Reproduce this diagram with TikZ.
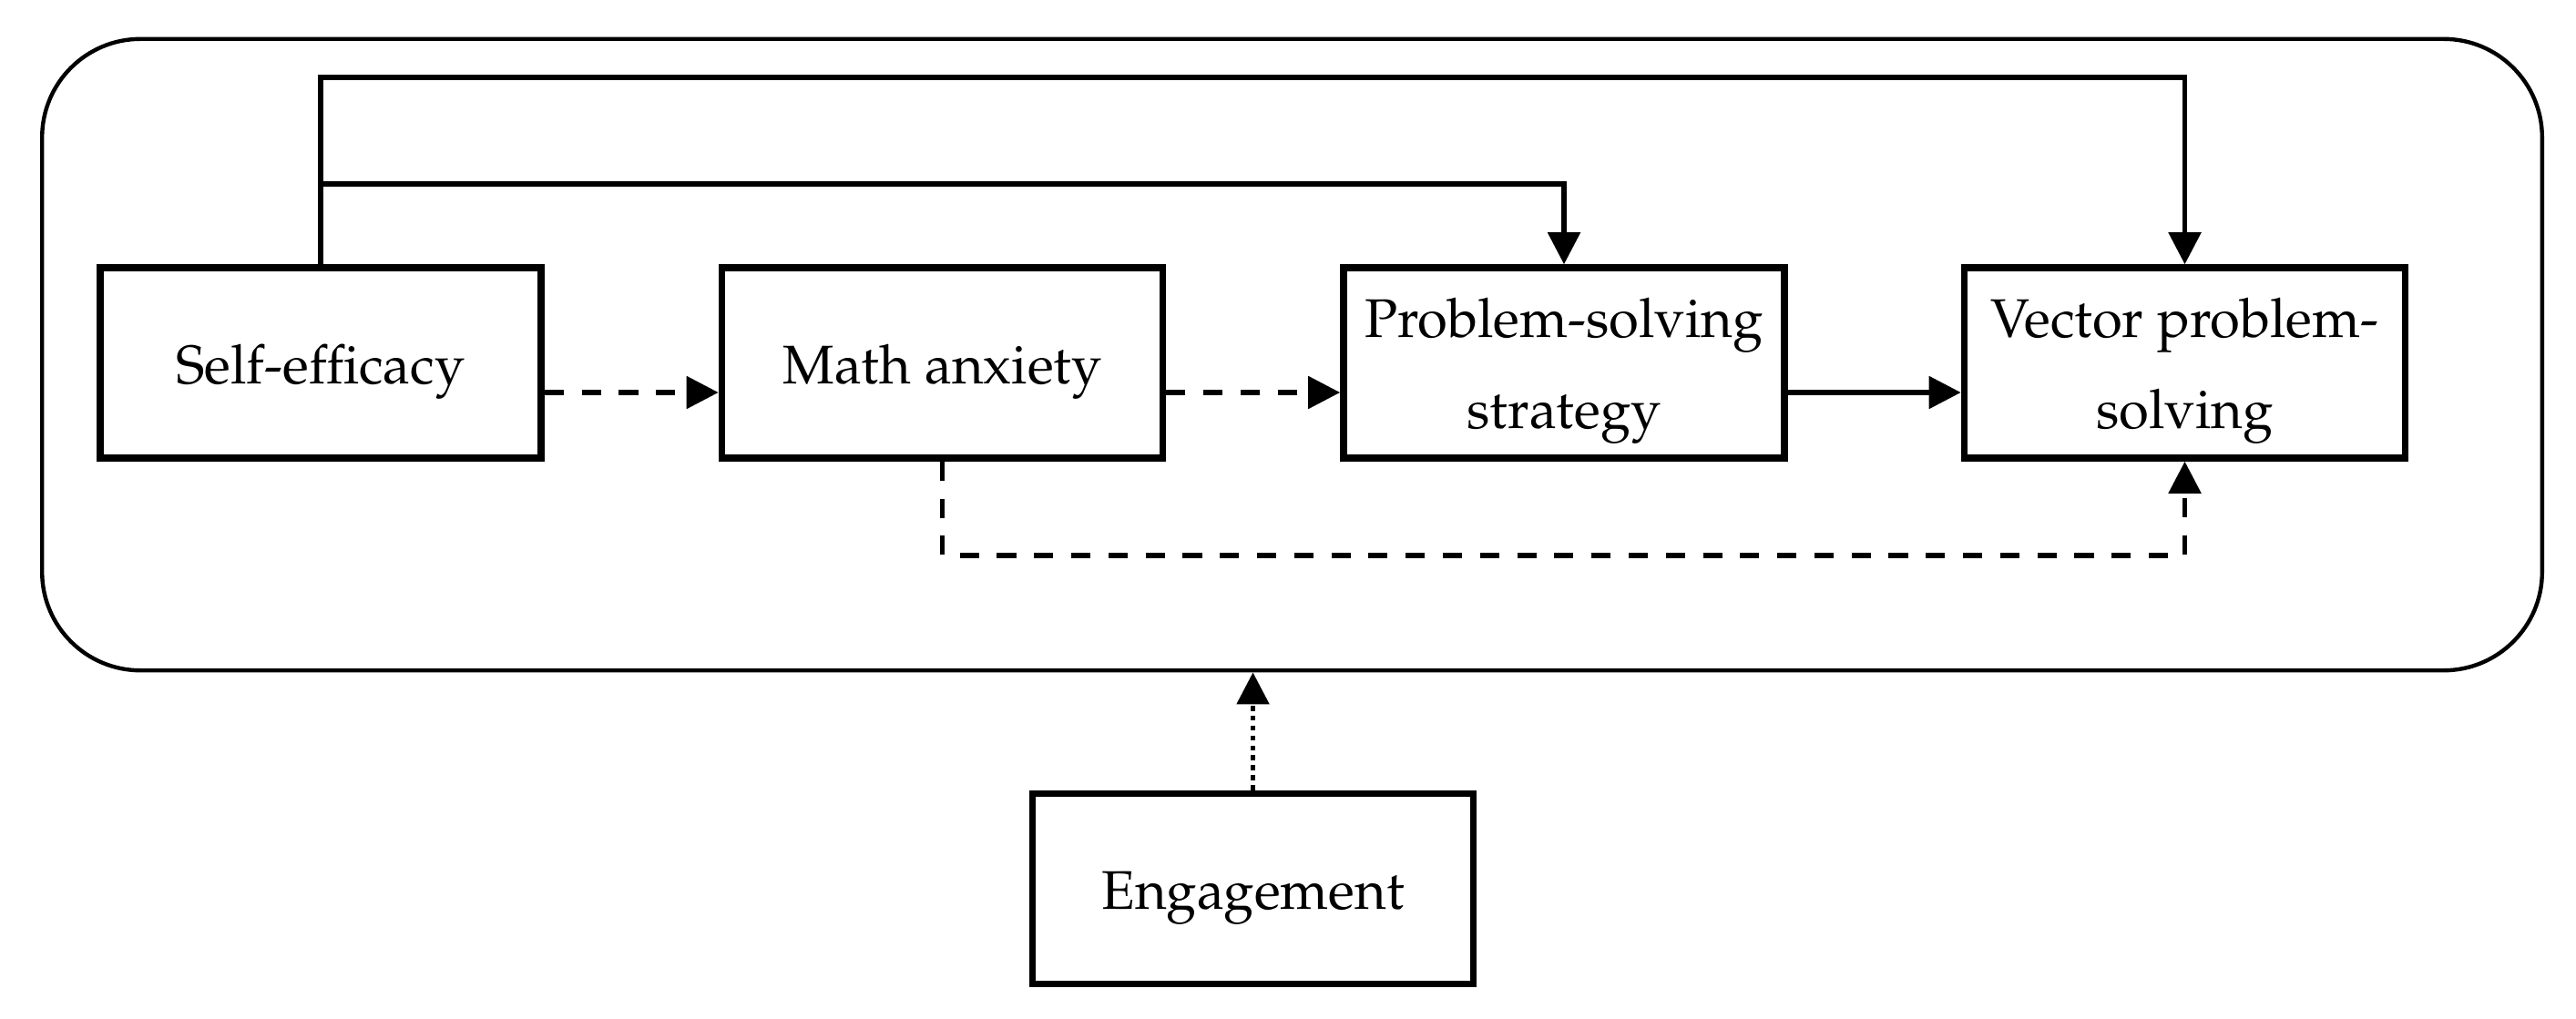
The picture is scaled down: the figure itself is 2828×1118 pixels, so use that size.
\documentclass[tikz,border=0pt]{standalone}
\usepackage[T1]{fontenc}
\renewcommand{\rmdefault}{ppl}
\usetikzlibrary{arrows.meta}
\begin{document}
\begin{tikzpicture}[x=0.01cm,y=-0.01cm,
  box/.style={draw, line width=2.1pt, minimum width=4.84cm, minimum height=2.09cm,
    inner sep=0pt, align=center, font=\fontsize{17pt}{28.2pt}\selectfont},
  oneline/.style={text height=12.8pt, text depth=0pt},
  twoline/.style={text height=40.7pt, text depth=0pt},
  outerbox/.style={draw, line width=1.25pt, rounded corners=1.08cm,
    minimum width=27.43cm, minimum height=6.93cm, inner sep=0pt},
  conn/.style={line width=1.5pt},
  tip/.style={-{Triangle[length=0.35cm,width=0.35cm]}},
  dashline/.style={dash pattern=on 6pt off 5.6pt},
  dotline/.style={dash pattern=on 1.6pt off 1.5pt}]
\useasboundingbox (0,0) rectangle (2828,1118);

\node[outerbox] (outer) at (1418.5,389.5) {};

\node[box,oneline] (se)  at (352,398.5)    {Self-efficacy};
\node[box,oneline] (ma)  at (1034.5,398.5) {Math anxiety};
\node[box,twoline] (pss) at (1717,398.5)   {Problem-solving\\strategy};
\node[box,twoline] (vps) at (2398.5,398.5) {Vector problem-\\solving};
\node[box,oneline] (eng) at (1375.5,976)   {Engagement};

\coordinate (topy) at (0,85);
\coordinate (midy) at (0,202);
\coordinate (arry) at (0,431);
\coordinate (boty) at (0,610);

\draw[conn,tip] (se.north) -- (se.north |- topy) -| (vps.north);
\draw[conn,tip] (se.north |- midy) -| (pss.north);
\draw[conn,tip,dashline] (se.east |- arry) -- (ma.west |- arry);
\draw[conn,tip,dashline] (ma.east |- arry) -- (pss.west |- arry);
\draw[conn,tip] (pss.east |- arry) -- (vps.west |- arry);
\draw[conn,tip,dashline] (ma.south) -- (ma.south |- boty) -| (vps.south);
\draw[conn,tip,dotline] (eng.north) -- (eng.north |- outer.south);
\end{tikzpicture}
\end{document}
